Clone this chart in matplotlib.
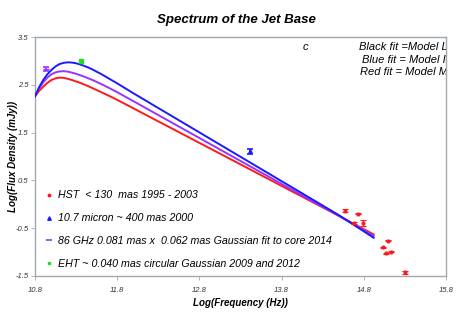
import matplotlib
matplotlib.use("Agg")
import matplotlib.pyplot as plt
from matplotlib.lines import Line2D

plt.rcParams['font.family'] = ['Liberation Sans', 'DejaVu Sans']

# ---- data ----
fit_x = [10.8, 10.85, 10.9, 10.95, 11.0, 11.05, 11.1, 11.15, 11.2, 11.25, 11.3, 11.35, 11.4,
         11.45, 11.5, 11.6, 11.7, 11.8, 11.9, 12.0, 12.5, 13.0, 13.5, 14.0, 14.5, 14.92]
red_fit = [2.26, 2.37, 2.46, 2.54, 2.60, 2.635, 2.65, 2.645, 2.625, 2.60, 2.57, 2.54, 2.505,
           2.47, 2.43, 2.35, 2.27, 2.185, 2.095, 2.005, 1.555, 1.105, 0.655, 0.205, -0.245, -0.63]
purple_fit = [2.26, 2.42, 2.55, 2.65, 2.72, 2.76, 2.78, 2.785, 2.775, 2.755, 2.73, 2.70, 2.67,
              2.635, 2.60, 2.52, 2.435, 2.345, 2.25, 2.155, 1.675, 1.195, 0.715, 0.235, -0.245, -0.66]
blue_fit = [2.26, 2.45, 2.60, 2.72, 2.81, 2.885, 2.935, 2.96, 2.97, 2.965, 2.95, 2.925, 2.895,
            2.86, 2.82, 2.73, 2.63, 2.53, 2.425, 2.32, 1.81, 1.30, 0.79, 0.28, -0.23, -0.70]

hst_x = [14.57, 14.685, 14.73, 14.79, 15.03, 15.07, 15.09, 15.13, 15.30]
hst_y = [-0.13, -0.39, -0.20, -0.39, -0.90, -1.02, -0.76, -0.99, -1.42]
hst_err = [0.04, 0.02, 0.01, 0.06, 0.01, 0.01, 0.01, 0.01, 0.03]

ir_x = [13.415]
ir_y = [1.11]
ir_err = [0.05]

mm_x = [10.93]
mm_y = [2.83]
mm_err = [0.04]

eht_x = [11.36]
eht_y = [3.0]

legend_labels = ["HST  < 130  mas 1995 - 2003",
                 "10.7 micron ~ 400 mas 2000",
                 "86 GHz 0.081 mas x  0.062 mas Gaussian fit to core 2014",
                 "EHT ~ 0.040 mas circular Gaussian 2009 and 2012"]
fit_notes = ["Black fit =Model Li", "Blue fit = Model I", "Red fit = Model MA"]

x_ticks = [10.8, 11.8, 12.8, 13.8, 14.8, 15.8]
y_ticks = [-1.5, -0.5, 0.5, 1.5, 2.5, 3.5]

# ---- figure ----
fig = plt.figure(figsize=(4.57, 3.13), dpi=100)
ax = fig.add_axes([35/457, 1-276/313, 411/457, 239/313])

ax.plot(fit_x, red_fit, color='#ff1a1a', lw=1.4, zorder=3, solid_joinstyle='round')
ax.plot(fit_x, purple_fit, color='#9933ff', lw=1.4, zorder=3, solid_joinstyle='round')
ax.plot(fit_x, blue_fit, color='#1a1aff', lw=1.4, zorder=4, solid_joinstyle='round')

ax.errorbar(hst_x, hst_y, yerr=hst_err, fmt='o', ms=2, color='#ff1a1a',
            ecolor='#ff1a1a', elinewidth=0.8, capsize=2, capthick=0.8, zorder=5)
ax.errorbar(ir_x, ir_y, yerr=ir_err, fmt='^', ms=2.5, color='#1a1aff',
            ecolor='#1a1aff', elinewidth=1.2, capsize=2.5, capthick=1.2, zorder=5)
ax.errorbar(mm_x, mm_y, yerr=mm_err, fmt='_', ms=4, color='#9933ff',
            ecolor='#9933ff', elinewidth=1.2, capsize=2.5, capthick=1.2, zorder=5)
ax.plot(eht_x, eht_y, 's', ms=3.5, color='#22dd22', zorder=5)

ax.set_xlim(10.8, 15.8)
ax.set_ylim(-1.5, 3.5)
ax.set_xticks(x_ticks)
ax.set_yticks(y_ticks)
ax.set_xticklabels([f"{v:.1f}" for v in x_ticks], fontsize=5.5, style='italic', color='#333333')
ax.set_yticklabels([f"{v:.1f}" for v in y_ticks], fontsize=5.5, style='italic', color='#333333')
ax.tick_params(axis='both', length=3, width=0.6, color='#a0a8b0')
ax.tick_params(axis='x', pad=5)
ax.tick_params(axis='y', pad=1.5)
for s in ax.spines.values():
    s.set_color('#a0a8b0')
    s.set_linewidth(1.0)

ax.set_xlabel("Log(Frequency (Hz))", fontsize=7, style='italic', fontweight='bold', labelpad=3)
ax.set_ylabel("Log(Flux Density (mJy))", fontsize=7, style='italic', fontweight='bold', labelpad=-2)
fig.suptitle("Spectrum of the Jet Base", x=236/457, y=1-20/313, va='center',
             fontsize=9.5, style='italic', fontweight='bold')

# legend
handles = [Line2D([], [], ls='none', marker='o', ms=1.8, color='#ff1a1a'),
           Line2D([], [], ls='none', marker='^', ms=2.5, color='#1a1aff'),
           Line2D([], [], ls='none', marker='_', ms=4, mew=1.2, color='#9933ff'),
           Line2D([], [], ls='none', marker='s', ms=2, color='#22dd22')]
leg = ax.legend(handles, legend_labels, loc='lower left', bbox_to_anchor=(0.008, -0.002),
                frameon=False, prop={'size': 7.7, 'style': 'italic'},
                labelspacing=1.2, handlelength=0.6, handletextpad=0.5, borderpad=0.2)

# annotations
ax.text((305-35)/411, 1-(47-37)/239, "c", transform=ax.transAxes,
        fontsize=8, style='italic', va='center', ha='center')
note_y = [47, 60, 72]
note_x = [359, 362.5, 360]
for t, xx, yy in zip(fit_notes, note_x, note_y):
    ax.text((xx-35)/411, 1-(yy-37)/239, t, transform=ax.transAxes, fontsize=8,
            style='italic', va='center', ha='left', clip_on=True)

fig.savefig("out.png", dpi=100)
